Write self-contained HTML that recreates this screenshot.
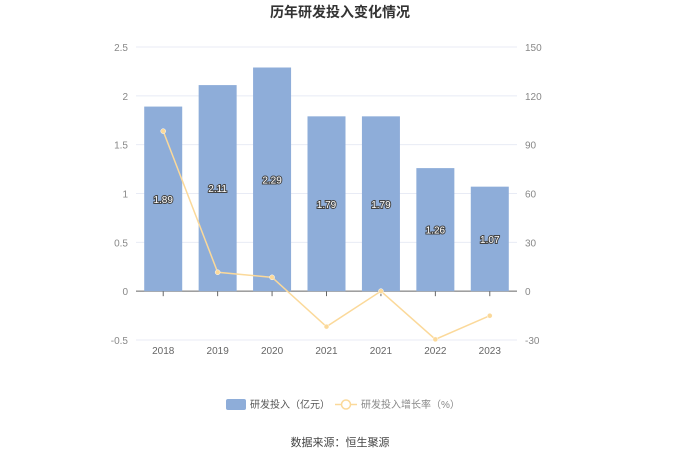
<!DOCTYPE html>
<html><head><meta charset="utf-8"><style>
body{margin:0;background:#fff;font-family:"Liberation Sans","Noto Sans CJK SC",sans-serif;}
</style></head><body>
<svg id="c" width="680" height="460" xmlns="http://www.w3.org/2000/svg" font-family="Liberation Sans, Noto Sans CJK SC, sans-serif">
<text x="340" y="17" text-anchor="middle" font-size="14" font-weight="bold" fill="#333">历年研发投入变化情况</text>
<g id="grid"></g><g id="bars"></g><g id="line"></g><g id="labels"></g>
<g>
<rect x="226" y="399" width="20" height="11" rx="2" fill="#8eadd9"/>
<text x="250" y="408" font-size="10" fill="#555">研发投入（亿元）</text>
<line x1="335" y1="404.5" x2="357" y2="404.5" stroke="#fbd99a" stroke-width="1.5"/>
<circle cx="346" cy="404.5" r="4.5" fill="#fff" stroke="#fbd99a" stroke-width="1.5"/>
<text x="361" y="408" font-size="10" fill="#888">研发投入增长率（%）</text>
</g>
<text x="340" y="446" text-anchor="middle" font-size="11" fill="#444">数据来源：恒生聚源</text>
</svg>
<script>
const categories=["2018","2019","2020","2021","2021","2022","2023"];
const investValues=[1.89,2.11,2.29,1.79,1.79,1.26,1.07];
const growthValues=[98.3,11.6,8.5,-21.8,0,-29.6,-15.1];
const leftTicks=[2.5,2,1.5,1,0.5,0,-0.5];
const rightTicks=[150,120,90,60,30,0,-30];
const NS="http://www.w3.org/2000/svg";
const x0=136,x1=517,yTop=47,yBot=340;
const yL=v=>yTop+(2.5-v)/3*(yBot-yTop);
const yR=v=>yTop+(150-v)/180*(yBot-yTop);
const band=(x1-x0)/categories.length;
const xC=i=>x0+band*(i+0.5);
function mk(t,a,p){const e=document.createElementNS(NS,t);for(const k in a)e.setAttribute(k,a[k]);p.appendChild(e);return e;}
const g=document.getElementById('grid');
leftTicks.forEach((v,i)=>{const y=yL(v);
 if(v!==0){const l=mk('line',{x1:x0,x2:x1,y1:y,y2:y,stroke:'#e8ebf5'},g);}
 const t=mk('text',{x:x0-8,y:y+4,'text-anchor':'end','font-size':10,fill:'#888'},g);t.textContent=v;
 
 const r=mk('text',{x:x1+8,y:y+4,'font-size':10,fill:'#888'},g);r.textContent=rightTicks[i];
 });
const ax=mk('line',{x1:x0,x2:x1,y1:yL(0),y2:yL(0),stroke:'#666'},g);

const bg=document.getElementById('bars'),lg=document.getElementById('labels');
categories.forEach((c,i)=>{const cx=xC(i);
 const tk=mk('line',{x1:cx,x2:cx,y1:yL(0),y2:yL(0)+5,stroke:'#666'},g);
 
 const t=mk('text',{x:cx,y:yL(0)+63,'text-anchor':'middle','font-size':10,fill:'#666'},g);t.textContent=c;
 
 const v=investValues[i],y=yL(v);
 const b=mk('rect',{x:cx-19,y:y,width:38,height:yL(0)-y,fill:'#8eadd9'},bg);
 
 const lt=mk('text',{x:cx,y:(y+yL(0))/2+4,'text-anchor':'middle','font-size':10,fill:'#fff',stroke:'#444','stroke-width':2,'paint-order':'stroke'},lg);
 lt.textContent=v.toFixed(2);});
const lnG=document.getElementById('line');
const pl=mk('polyline',{points:growthValues.map((v,i)=>xC(i)+','+yR(v)).join(' '),fill:'none',stroke:'#fbd99a','stroke-width':1.5},lnG);

growthValues.forEach((v,i)=>{const p=mk('circle',{cx:xC(i),cy:yR(v),r:2.5,fill:'#fbd99a',stroke:'#fff','stroke-width':0.5},lnG);
 });
</script>
</body></html>
